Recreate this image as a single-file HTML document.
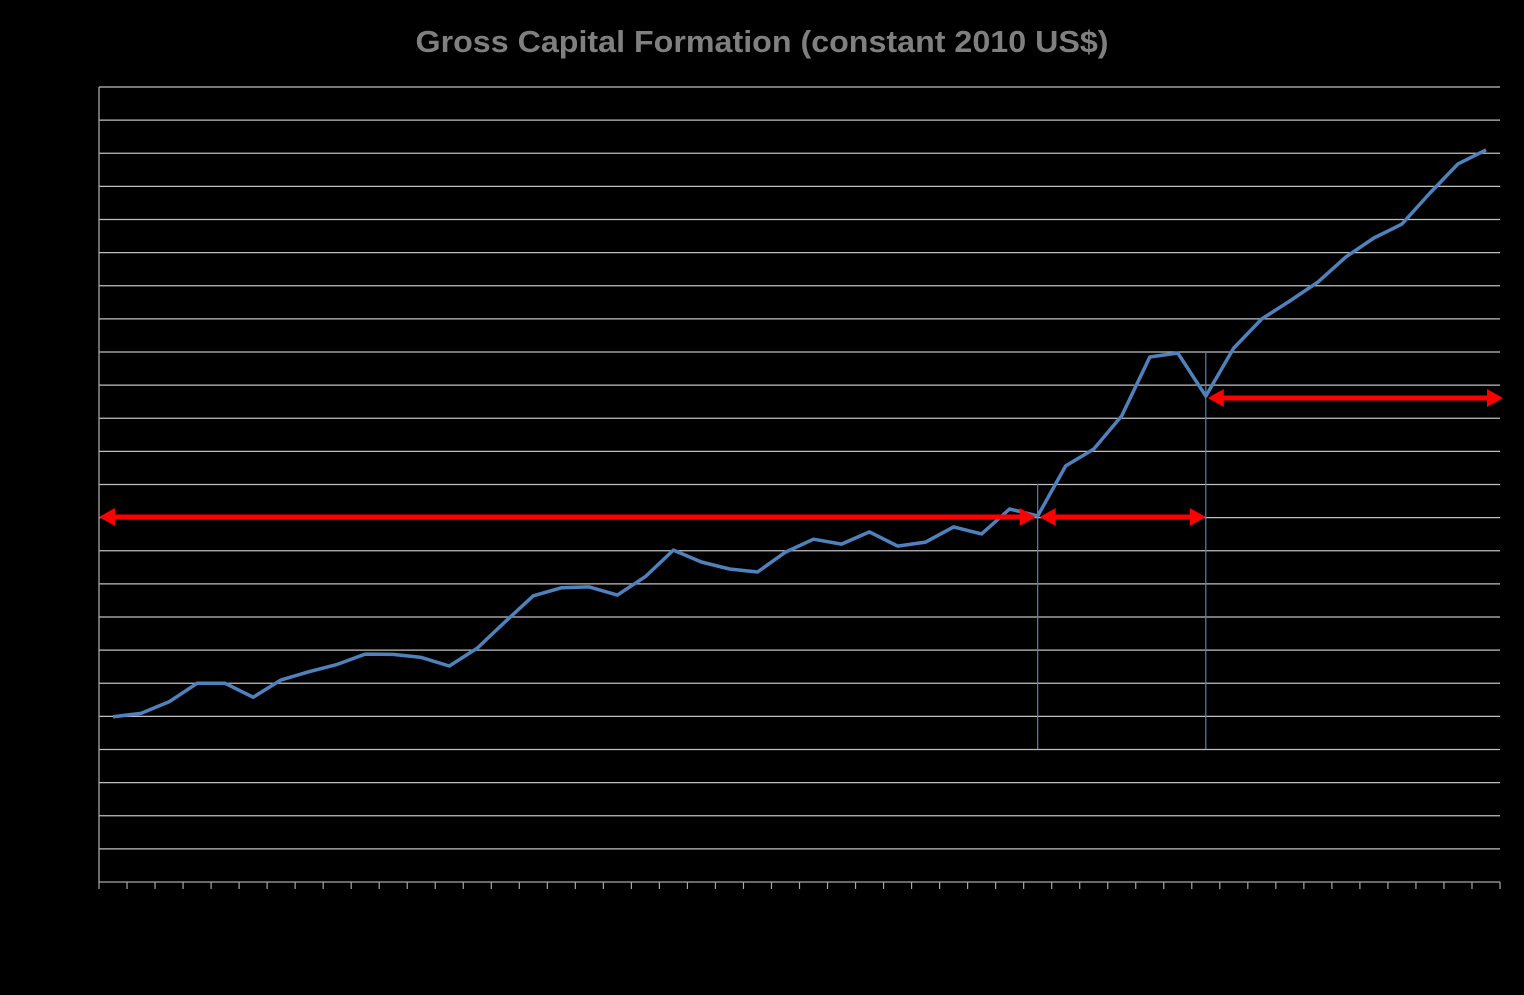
<!DOCTYPE html>
<html><head><meta charset="utf-8"><style>
html,body{margin:0;padding:0;background:#000;}
svg{display:block;}
</style></head><body>
<svg id="chart" width="1524" height="995" viewBox="0 0 1524 995" xmlns="http://www.w3.org/2000/svg">
<rect x="0" y="0" width="1524" height="995" fill="#000"/>
<text x="762" y="52" text-anchor="middle" textLength="693" lengthAdjust="spacingAndGlyphs" font-family="Liberation Sans, sans-serif" font-weight="bold" font-size="31" fill="#7f7f7f">Gross Capital Formation (constant 2010 US$)</text>
<g id="grid"></g>
<g id="axes"></g>
<g id="series"></g>
<g id="annot"></g>
</svg>
<script>
const values = [4.99,5.09,5.44,6.00,6.00,5.58,6.10,6.35,6.57,6.88,6.87,6.78,6.52,7.06,7.86,8.64,8.88,8.91,8.66,9.22,10.02,9.66,9.45,9.36,9.96,10.35,10.20,10.57,10.14,10.26,10.72,10.51,11.26,11.05,12.56,13.07,14.07,15.85,15.97,14.67,16.12,17.00,17.54,18.11,18.87,19.44,19.86,20.80,21.68,22.10];
const categories = values.map((v,i)=>i);
const yTicks = [0,1,2,3,4,5,6,7,8,9,10,11,12,13,14,15,16,17,18,19,20,21,22,23,24];
const periodBreaks = [33, 39];

const NS='http://www.w3.org/2000/svg';
const L=99,R=1500,T=87,B=882,YMAX=24;
const n=categories.length, cw=(R-L)/n;
const x=i=>L+cw*(i+0.5);
const y=v=>B-(v/YMAX)*(B-T);
function mk(tag,attrs,parent){const e=document.createElementNS(NS,tag);for(const k in attrs)e.setAttribute(k,attrs[k]);parent.appendChild(e);return e;}
const grid=document.getElementById('grid'),axes=document.getElementById('axes'),series=document.getElementById('series'),annot=document.getElementById('annot');
yTicks.forEach(t=>{if(t===0)return;
 const g=mk('line',{x1:L,x2:R,y1:y(t),y2:y(t),stroke:'#bfbfbf','stroke-width':1.3},grid);
 
 
});
const ya=mk('line',{x1:L,x2:L,y1:T,y2:B,stroke:'#a6a6a6','stroke-width':1.3},axes);


const xa=mk('line',{x1:L,x2:R,y1:B,y2:B,stroke:'#a6a6a6','stroke-width':1.3},axes);


for(let i=0;i<=n;i++){
 const tk=mk('line',{x1:L+cw*i,x2:L+cw*i,y1:B,y2:B+7,stroke:'#a6a6a6','stroke-width':1.2},axes);
 
 
}
const bx=periodBreaks.map(i=>x(i));
const v1=mk('line',{x1:bx[0],x2:bx[0],y1:484,y2:749,stroke:'#4f81bd','stroke-width':1.2},annot);


const v2=mk('line',{x1:bx[1],x2:bx[1],y1:352,y2:749,stroke:'#4f81bd','stroke-width':1.2},annot);


const pts=values.map((v,i)=>x(i).toFixed(1)+','+y(v).toFixed(1)).join(' ');
const pl=mk('polyline',{points:pts,fill:'none',stroke:'#4f81bd','stroke-width':3.5,'stroke-linejoin':'round'},series);


function arrow(x1,x2,yy,name){
 const g=mk('g',{},annot);
 
 
 mk('line',{x1:x1+12,x2:x2-12,y1:yy,y2:yy,stroke:'#ff0000','stroke-width':5},g);
 mk('polygon',{points:`${x1},${yy} ${x1+16},${yy-9} ${x1+16},${yy+9}`,fill:'#ff0000'},g);
 mk('polygon',{points:`${x2},${yy} ${x2-16},${yy-9} ${x2-16},${yy+9}`,fill:'#ff0000'},g);
}
arrow(99,bx[0]-2,517,'period-arrow-1');
arrow(bx[0]+2,bx[1],517,'period-arrow-2');
arrow(bx[1]+2,1503,398,'period-arrow-3');
</script>
</body></html>
